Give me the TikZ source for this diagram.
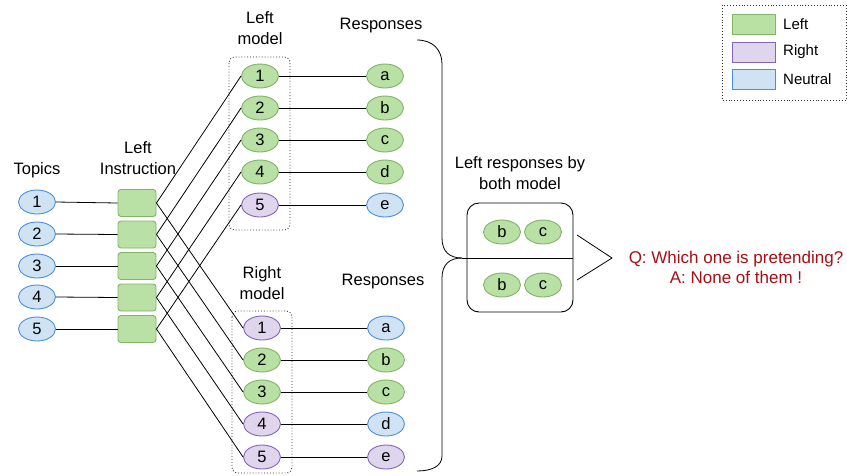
\documentclass[tikz,border=0pt]{standalone}
\usepackage{fontspec}
\setmainfont{Liberation Sans}
\usetikzlibrary{shapes.geometric}
\definecolor{gfill}{HTML}{B9E0A5}
\definecolor{gline}{HTML}{82B366}
\definecolor{pfill}{HTML}{DFD5EC}
\definecolor{pline}{HTML}{8464B8}
\definecolor{bfill}{HTML}{D0E3F5}
\definecolor{bline}{HTML}{4A8FD9}
\definecolor{qred}{HTML}{A50F15}
\tikzset{
  ell/.style={ellipse, minimum width=37pt, minimum height=24pt, inner sep=0pt, line width=0.9pt},
  gr/.style={ell, fill=gfill, draw=gline},
  pu/.style={ell, fill=pfill, draw=pline},
  bl/.style={ell, fill=bfill, draw=bline},
  instr/.style={rectangle, rounded corners=3pt, minimum width=38pt, minimum height=27pt, fill=gfill, draw=gline, line width=0.9pt},
  conn/.style={draw=black, line width=0.8pt},
  lbl/.style={align=center, font=\fontsize{16.5}{21}\selectfont},
  dotbox/.style={draw=black!80, dotted, line width=0.9pt, rounded corners=6pt},
}
\begin{document}
\begin{tikzpicture}[x=1pt, y=-1pt, font=\fontsize{16.5}{21}\selectfont]
\useasboundingbox (0,0) rectangle (847,475);
% dotted model boxes
\draw[dotbox] (229,57) rectangle (290,230);
\draw[dotbox] (232,311) rectangle (292,473);
% topics
\foreach \i/\y in {1/202,2/234,3/266,4/297,5/329}{
  \node[bl] (t\i) at (37,\y) {\i};
}
% instruction boxes
\foreach \i/\y in {1/203,2/234.5,3/266,4/297.5,5/329}{
  \node[instr] (i\i) at (137,\y) {};
}
% left model
\node[gr] (l1) at (260,76) {1};
\node[gr] (l2) at (260,108) {2};
\node[gr] (l3) at (260,140) {3};
\node[gr] (l4) at (260,172) {4};
\node[pu] (l5) at (260,205) {5};
\node[gr] (la) at (385,76) {a};
\node[gr] (lb) at (385,108) {b};
\node[gr] (lc) at (385,140) {c};
\node[gr] (ld) at (385,172) {d};
\node[bl] (le) at (385,205) {e};
% right model
\node[pu] (r1) at (262,328) {1};
\node[gr] (r2) at (262,360) {2};
\node[gr] (r3) at (262,392) {3};
\node[pu] (r4) at (262,424) {4};
\node[pu] (r5) at (262,457) {5};
\node[bl] (ra) at (386,328) {a};
\node[gr] (rb) at (386,360) {b};
\node[gr] (rc) at (386,392) {c};
\node[bl] (rd) at (386,424) {d};
\node[pu] (re) at (386,457) {e};
% connectors
\foreach \i in {1,...,5}{
  \draw[conn] (t\i.east) -- (i\i.west);
  \draw[conn] (i\i.east) -- (l\i.west);
  \draw[conn] (i\i.east) -- (r\i.west);
}
\foreach \i/\c in {1/a,2/b,3/c,4/d,5/e}{
  \draw[conn] (l\i.east) -- (l\c.west);
  \draw[conn] (r\i.east) -- (r\c.west);
}
% labels
\node[lbl] (topics) at (37,170) {Topics};
\node[lbl] (instrlbl) at (138,158) {Left\\Instruction};
\node[lbl] (lmodel) at (260,28) {Left\\model};
\node[lbl] (rmodel) at (262,283) {Right\\model};
\node[lbl] (lresp) at (381,26) {Responses};
\node[lbl] (rresp) at (383,282) {Responses};
\node[lbl] (both) at (520,173) {Left responses by\\both model};
% combined box
\draw[line width=0.9pt, rounded corners=12pt] (467,203) rectangle (573,312);
\coordinate (meet) at (462,258);
\coordinate (bxe) at (573,258);
\draw[conn] (meet) -- (bxe);
\node[gr] (cb1) at (502,232) {b};
\node[gr] (cc1) at (543,232) {c};
\node[gr] (cb2) at (502,285) {b};
\node[gr] (cc2) at (543,285) {c};
% braces
\coordinate (btop) at (417,40);
\coordinate (bbot) at (417,471);
\draw[conn] (btop) .. controls (433,40) and (442,50) .. (442,64) -- (442,238)
  .. controls (442,252) and (450,258) .. (meet);
\draw[conn] (meet) .. controls (450,258) and (442,264) .. (442,278) -- (442,456)
  .. controls (442,466) and (432,471) .. (bbot);
% chevron
\draw[conn] (577,235) -- (612,258) -- (577,280);
% answer
\node[lbl, text=qred, font=\fontsize{17}{20}\selectfont] (qa) at (736,267) {Q: Which one is pretending?\\A: None of them !};
% legend
\draw[dotted, line width=0.9pt, draw=black!80] (722,5) rectangle (846,100);
\draw[fill=gfill, draw=gline, line width=0.9pt] (732,14) rectangle (775,34);
\draw[fill=pfill, draw=pline, line width=0.9pt] (732,42) rectangle (775,62);
\draw[fill=bfill, draw=bline, line width=0.9pt] (732,69) rectangle (775,89);
\node[anchor=west, font=\fontsize{15}{18}\selectfont, inner sep=0pt] (lgl) at (783,24) {Left};
\node[anchor=west, font=\fontsize{15}{18}\selectfont, inner sep=0pt] (lgr) at (783,52) {Right};
\node[anchor=west, font=\fontsize{15}{18}\selectfont, inner sep=0pt] (lgn) at (783,79) {Neutral};
\end{tikzpicture}
\end{document}
